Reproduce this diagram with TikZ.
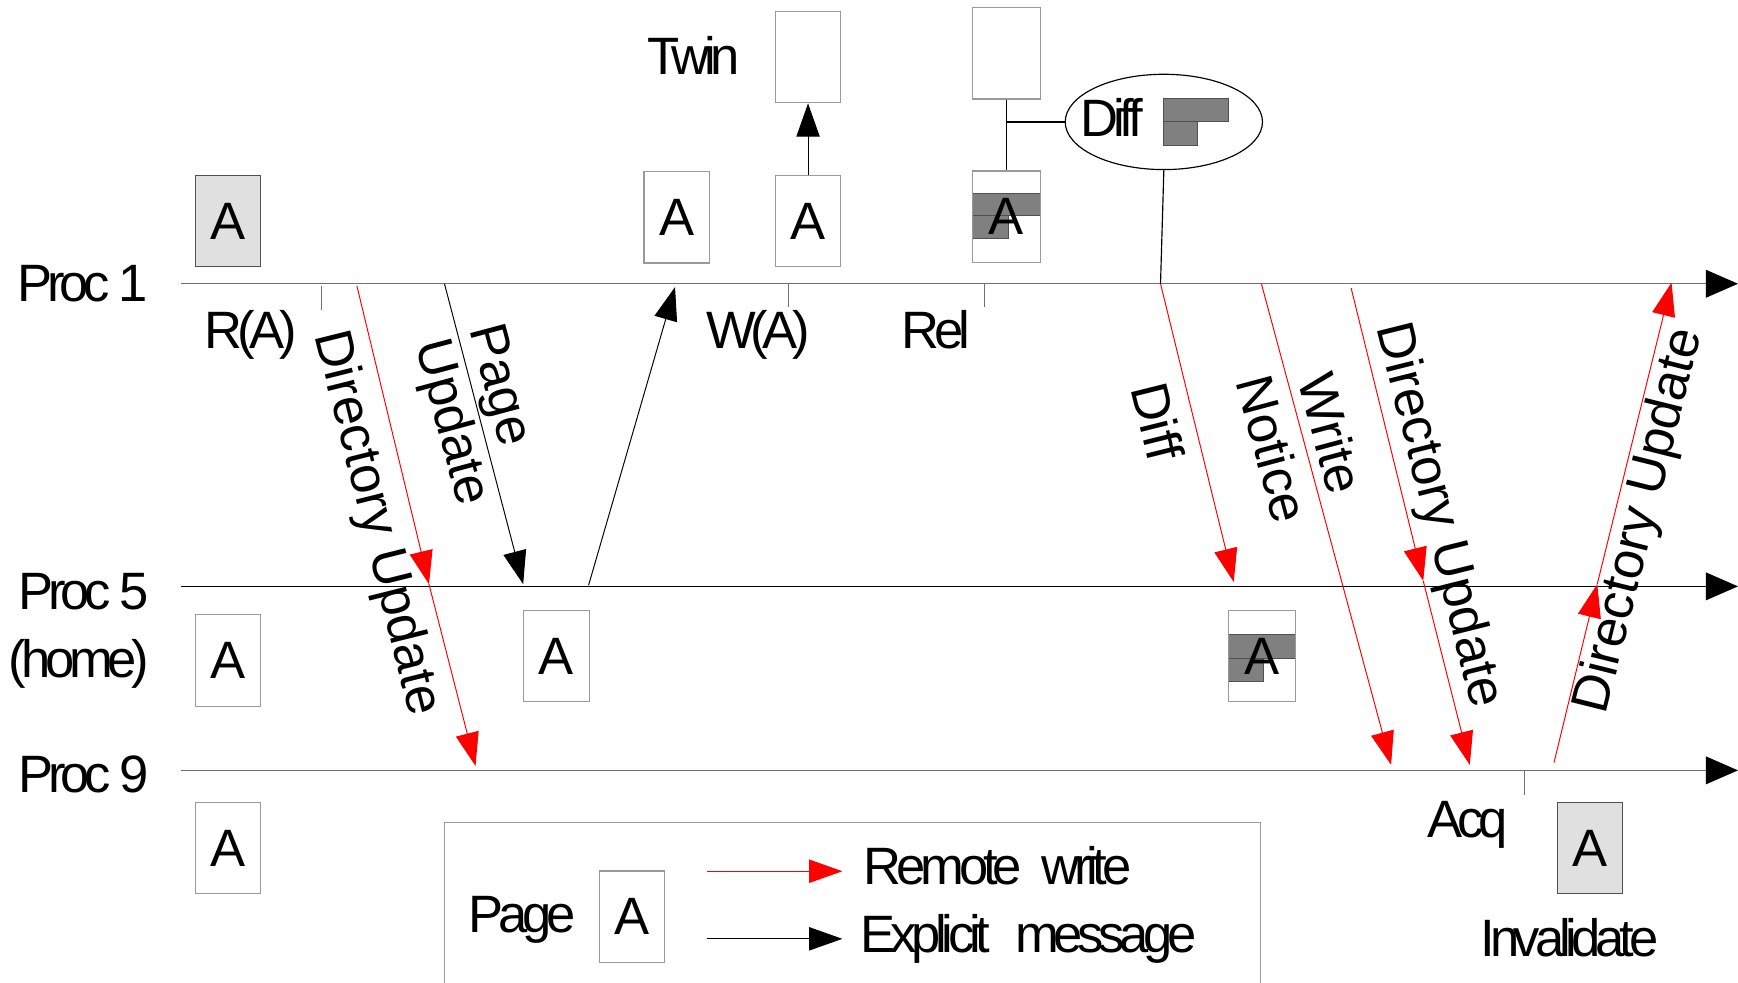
\documentclass[tikz,border=0pt]{standalone}
\usepackage{fontspec}
\setmainfont{Liberation Sans}[LetterSpace=-10]
\newfontfamily\rotfont{Liberation Sans}
\usetikzlibrary{arrows.meta,shapes.geometric}
\definecolor{boxgray}{HTML}{999999}
\definecolor{pagefill}{HTML}{E0E0E0}
\definecolor{darkedge}{HTML}{505050}
\definecolor{diffgray}{HTML}{808080}
\definecolor{linegray}{HTML}{707070}
\begin{document}
\begin{tikzpicture}[x=0.02cm,y=-0.02cm,
  lbl/.style={font=\fontsize{27}{29}\selectfont, inner sep=0},
  rlbl/.style={font=\rotfont\fontsize{27}{29}\selectfont, inner sep=0},
  pagebox/.style={draw=boxgray, line width=0.6pt, minimum width=1.18cm, minimum height=1.65cm, inner sep=0, lbl},
  graypage/.style={pagebox, fill=pagefill, draw=darkedge},
  tl/.style={line width=0.7pt, -{Triangle[length=0.58cm,width=0.5cm,color=black]}},
  msg/.style={line width=0.5pt, -{Triangle[length=0.6cm,width=0.42cm]}},
  rmsg/.style={msg, red},
  tick/.style={line width=0.6pt, linegray},
  ovl/.style={fill=diffgray, draw=darkedge, line width=0.5pt}
]
\useasboundingbox (0,0) rectangle (1568,886);

% time lines
\coordinate (l1s) at (163,256); \coordinate (l1e) at (1568,256);
\coordinate (l5s) at (163,529); \coordinate (l5e) at (1568,529);
\coordinate (l9s) at (163,695); \coordinate (l9e) at (1568,695);
\draw[tl, linegray] (l1s) -- (l1e);
\draw[tl, black] (l5s) -- (l5e);
\draw[tl, linegray] (l9s) -- (l9e);

\node[lbl, anchor=base east] (proc1) at (134,272) {Proc 1};
\node[lbl, anchor=base east] (proc5) at (135,550) {Proc 5};
\node[lbl, anchor=base east] (home) at (135,611) {(home)};
\node[lbl, anchor=base east] (proc9) at (135,715) {Proc 9};

% ticks
\coordinate (tra) at (290,258); \coordinate (tra2) at (290,280);
\coordinate (twa) at (711,256); \coordinate (twa2) at (711,277);
\coordinate (trel) at (888,256); \coordinate (trel2) at (888,277);
\coordinate (tacq) at (1375,695); \coordinate (tacq2) at (1375,717);
\draw[tick] (tra) -- (tra2);
\draw[tick] (twa) -- (twa2);
\draw[tick] (trel) -- (trel2);
\draw[tick] (tacq) -- (tacq2);
\node[lbl, anchor=base] (ra) at (226,314) {R(A)};
\node[lbl, anchor=base] (wa) at (684,314) {W(A)};
\node[lbl, anchor=base] (rel) at (844,314) {Rel};
\node[lbl, anchor=base] (acq) at (1324,756) {Acq};

% pages on Proc 1
\node[graypage] (g1) at (205.5,199.5) {A};
\node[pagebox] (p1b) at (610.5,196) {A};
\node[pagebox] (p1c) at (729,199.5) {A};
\node[pagebox] (twin) at (729,51.5) {};
\node[lbl, anchor=base] (twintxt) at (626,67) {Twin};
\draw[msg] (p1c.north) -- (twin.south);

\draw[ovl] (877,175) rectangle (939,194);
\draw[ovl] (877,194) rectangle (910,215);
\node[pagebox, minimum width=1.24cm] (p1d) at (908,195.5) {A};
\node[pagebox, minimum width=1.24cm] (top) at (908,48) {};
\draw[line width=0.6pt] (top.south) -- (p1d.north);
\node[ellipse, draw, line width=0.6pt, minimum width=3.56cm, minimum height=1.72cm, inner sep=0] (diff) at (1050,110) {};
\coordinate (dj) at (908,110);
\draw[line width=0.6pt] (dj) -- (diff.west);
\node[lbl, anchor=base] (difftxt) at (1003,123) {Diff};
\draw[ovl] (1050,89) rectangle (1108,110);
\draw[ovl] (1050,110) rectangle (1080,131);
\coordinate (dl) at (1047,256);
\draw[line width=0.6pt] (diff.south) -- (dl);

% pages on Proc 5
\node[pagebox] (p5a) at (205.5,596) {A};
\node[pagebox] (p5b) at (502,592) {A};
\draw[ovl] (1108,572) rectangle (1169,594);
\draw[ovl] (1108,594) rectangle (1140,615);
\node[pagebox, minimum width=1.22cm] (p5c) at (1138.5,592) {A};

% pages on Proc 9
\node[pagebox] (p9a) at (205.5,765) {A};
\node[graypage] (p9b) at (1434.5,765) {A};
\node[lbl, anchor=base] (inval) at (1416,863) {Invalidate};

% messages
\coordinate (a1s) at (322,258); \coordinate (a1m) at (387,527); \coordinate (a1e) at (429,691);
\draw[rmsg] (a1s) -- (a1m);
\draw[rmsg] (a1m) -- (a1e);
\node[rlbl, rotate=-76] (a1t) at (339,472) {Directory Update};

\coordinate (a2s) at (401,256); \coordinate (a2e) at (472,527);
\draw[msg] (a2s) -- (a2e);
\node[rlbl, rotate=-75, align=left] (a2t) at (430,375) {Page\\Update};

\coordinate (a3s) at (531,528); \coordinate (a3e) at (609,259);
\draw[msg] (a3s) -- (a3e);

\coordinate (a4s) at (1047,256); \coordinate (a4e) at (1113,525);
\draw[rmsg] (a4s) -- (a4e);
\node[rlbl, rotate=-76] (a4t) at (1045,380) {Diff};

\coordinate (a5s) at (1138,256); \coordinate (a5e) at (1255,690);
\draw[rmsg] (a5s) -- (a5e);
\node[rlbl, font=\rotfont\fontsize{27}{31}\selectfont, rotate=-75, align=center] (a5t) at (1175,398) {Write\\Notice};

\coordinate (a6s) at (1219,260); \coordinate (a6m) at (1284,524); \coordinate (a6e) at (1326,690);
\draw[rmsg] (a6s) -- (a6m);
\draw[rmsg] (a6m) -- (a6e);
\node[rlbl, rotate=-76] (a6t) at (1297,465) {Directory Update};

\coordinate (a7s) at (1402,688); \coordinate (a7m) at (1441,527); \coordinate (a7e) at (1508,255);
\draw[rmsg] (a7s) -- (a7m);
\draw[rmsg] (a7m) -- (a7e);
\node[rlbl, rotate=76] (a7t) at (1480,470) {Directory Update};

% legend
\draw[boxgray, line width=0.6pt] (401,900) -- (401,742) -- (1137,742) -- (1137,900);
\node[lbl, anchor=base] (legpage) at (471,841) {Page};
\node[pagebox] (lega) at (570,827) {A};
\coordinate (lr1) at (638,786); \coordinate (lr2) at (760,786);
\coordinate (lb1) at (638,847); \coordinate (lb2) at (760,847);
\draw[rmsg] (lr1) -- (lr2);
\draw[msg] (lb1) -- (lb2);
\node[lbl, anchor=base west] (legr) at (779,798) {Remote\hspace{0.2em} write};
\node[lbl, anchor=base west] (legb) at (776,859) {Explicit\hspace{0.3em} message};
\end{tikzpicture}
\end{document}
